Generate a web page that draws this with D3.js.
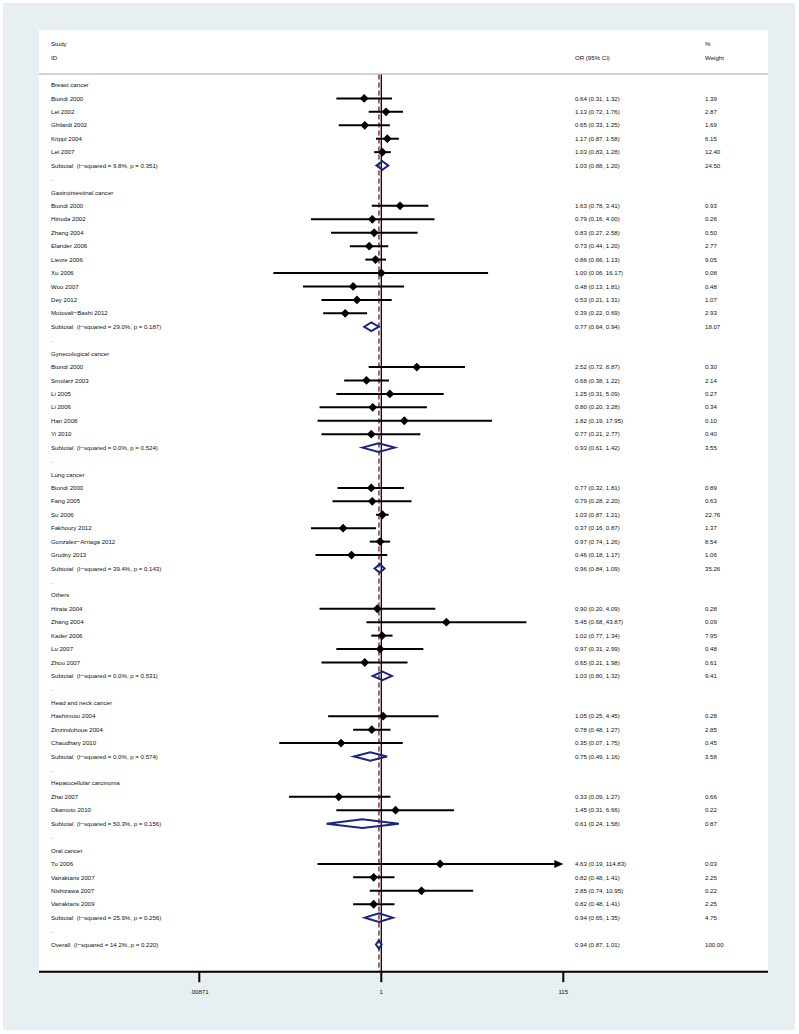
<!DOCTYPE html>
<html>
<head>
<meta charset="utf-8">
<script src="https://cdn.jsdelivr.net/npm/d3@7"></script>
<style>
  html, body { margin: 0; padding: 0; background: #ffffff; }
  svg { display: block; }
  text { font-family: "Liberation Sans", Arial, sans-serif; fill: #111111; white-space: pre; }
</style>
</head>
<body>
<div id="chart"></div>
<script>
// ---------------- DATA ----------------
const groupNames = [
  "Breast cancer", "Gastrointestinal cancer", "Gynecological cancer", "Lung cancer",
  "Others", "Head and neck cancer", "Hepatocellular carcinoma", "Oral cancer"
];

const studyLabels = [
  "Biondi 2000", "Lei 2002", "Ghilardi 2002", "Krippl 2004", "Lei 2007",
  "Biondi 2000", "Hinoda 2002", "Zhang 2004", "Elander 2006", "Lievre 2006", "Xu 2006", "Woo 2007", "Dey 2012", "Motovali\u2212Bashi 2012",
  "Biondi 2000", "Smolarz 2003", "Li 2005", "Li 2006", "Han 2008", "Yi 2010",
  "Biondi 2000", "Fang 2005", "Su 2006", "Fakhoury 2012", "Gonzalez\u2212Arriaga 2012", "Grudny 2013",
  "Hirata 2004", "Zhang 2004", "Kader 2006", "Lu 2007", "Zhou 2007",
  "Hashimoto 2004", "Zinzindohoue 2004", "Chaudhary 2010",
  "Zhai 2007", "Okamoto 2010",
  "Tu 2006", "Vairaktaris 2007", "Nishizawa 2007", "Vairaktaris 2009"
];
const studyGroup = [
  0,0,0,0,0,
  1,1,1,1,1,1,1,1,1,
  2,2,2,2,2,2,
  3,3,3,3,3,3,
  4,4,4,4,4,
  5,5,5,
  6,6,
  7,7,7,7
];
const studyOR = [
  0.64, 1.13, 0.65, 1.17, 1.03,
  1.63, 0.79, 0.83, 0.73, 0.86, 1.00, 0.48, 0.53, 0.39,
  2.52, 0.68, 1.25, 0.80, 1.82, 0.77,
  0.77, 0.79, 1.03, 0.37, 0.97, 0.46,
  0.90, 5.45, 1.02, 0.97, 0.65,
  1.05, 0.78, 0.35,
  0.33, 1.45,
  4.63, 0.82, 2.85, 0.82
];
const studyLow = [
  0.31, 0.72, 0.33, 0.87, 0.83,
  0.78, 0.16, 0.27, 0.44, 0.66, 0.06, 0.13, 0.21, 0.22,
  0.72, 0.38, 0.31, 0.20, 0.19, 0.21,
  0.32, 0.28, 0.87, 0.16, 0.74, 0.18,
  0.20, 0.68, 0.77, 0.31, 0.21,
  0.25, 0.48, 0.07,
  0.09, 0.31,
  0.19, 0.48, 0.74, 0.48
];
const studyHigh = [
  1.32, 1.76, 1.25, 1.58, 1.28,
  3.41, 4.00, 2.58, 1.20, 1.13, 16.17, 1.81, 1.31, 0.69,
  8.87, 1.22, 5.09, 3.28, 17.95, 2.77,
  1.81, 2.20, 1.21, 0.87, 1.26, 1.17,
  4.09, 43.87, 1.34, 2.99, 1.98,
  4.45, 1.27, 1.75,
  1.27, 6.66,
  114.83, 1.41, 10.95, 1.41
];
const studyWeight = [
  "1.39", "2.87", "1.69", "6.15", "12.40",
  "0.93", "0.26", "0.50", "2.77", "9.05", "0.08", "0.48", "1.07", "2.93",
  "0.30", "2.14", "0.27", "0.34", "0.10", "0.40",
  "0.89", "0.63", "22.76", "1.37", "8.54", "1.06",
  "0.28", "0.09", "7.95", "0.48", "0.61",
  "0.28", "2.85", "0.45",
  "0.66", "0.22",
  "0.03", "2.25", "0.22", "2.25"
];

const subtotalISq = ["9.8%", "29.0%", "0.0%", "39.4%", "0.0%", "0.0%", "50.3%", "25.9%"];
const subtotalP   = ["0.351", "0.187", "0.524", "0.143", "0.531", "0.574", "0.156", "0.256"];
const subtotalOR  = [1.03, 0.77, 0.93, 0.96, 1.03, 0.75, 0.61, 0.94];
const subtotalLow = [0.88, 0.64, 0.61, 0.84, 0.80, 0.49, 0.24, 0.65];
const subtotalHigh= [1.20, 0.94, 1.42, 1.09, 1.32, 1.16, 1.58, 1.35];
const subtotalWeight = ["24.50", "18.07", "3.55", "35.26", "9.41", "3.58", "0.87", "4.75"];

const overallISq = "14.2%";
const overallP = "0.220";
const overallOR = 0.94;
const overallLow = 0.87;
const overallHigh = 1.01;
const overallWeight = "100.00";

const xTickValues = [0.00871, 1, 1 / 0.00871];
const xTickLabels = [".00871", "1", "115"];

// ---------------- LAYOUT ----------------
const W = 799, H = 1034;
const plotL = 39, plotR = 768, plotT = 30, axisY = 971.7;
const labelX = 51, orX = 575, wtX = 705;
const row0 = 85, rowStep = 13.43;
const fs = 6.1;

const fmt2 = d3.format(".2f");
const ciText = (o, l, h) => `${fmt2(o)} (${fmt2(l)}, ${fmt2(h)})`;

// Build rows
const rows = [];
groupNames.forEach((g, gi) => {
  rows.push({ type: "header", label: g });
  studyLabels.forEach((s, si) => {
    if (studyGroup[si] === gi) {
      rows.push({ type: "study", label: s, or: studyOR[si], lo: studyLow[si], hi: studyHigh[si], w: studyWeight[si] });
    }
  });
  rows.push({ type: "sub", label: `Subtotal  (I\u2212squared = ${subtotalISq[gi]}, p = ${subtotalP[gi]})`,
    or: subtotalOR[gi], lo: subtotalLow[gi], hi: subtotalHigh[gi], w: subtotalWeight[gi] });
  rows.push({ type: "dot", label: "." });
});
rows.push({ type: "sub", label: `Overall  (I\u2212squared = ${overallISq}, p = ${overallP})`,
  or: overallOR, lo: overallLow, hi: overallHigh, w: overallWeight });

const y = (i) => row0 + i * rowStep;

const xMin = xTickValues[0], xMax = xTickValues[xTickValues.length - 1];
const x = d3.scaleLog().domain([xMin, xMax]).range([199.3, 563.3]);

const svg = d3.select("#chart").append("svg")
  .attr("width", W).attr("height", H);

// backgrounds
svg.append("rect").attr("x", 0).attr("y", 0).attr("width", W).attr("height", H).attr("fill", "#ffffff");
svg.append("rect").attr("x", 3).attr("y", 3).attr("width", 792).attr("height", 1027).attr("fill", "#e8eff2");
svg.append("rect").attr("x", plotL).attr("y", plotT).attr("width", plotR - plotL).attr("height", axisY - plotT).attr("fill", "#ffffff");

// header
const hdr = svg.append("g");
hdr.append("text").attr("x", labelX).attr("y", 44).attr("dy", "0.35em").attr("font-size", fs).text("Study");
hdr.append("text").attr("x", labelX).attr("y", 58).attr("dy", "0.35em").attr("font-size", fs).text("ID");
hdr.append("text").attr("x", orX).attr("y", 58).attr("dy", "0.35em").attr("font-size", fs).text("OR (95% CI)");
hdr.append("text").attr("x", wtX).attr("y", 44).attr("dy", "0.35em").attr("font-size", fs).text("%");
hdr.append("text").attr("x", wtX).attr("y", 58).attr("dy", "0.35em").attr("font-size", fs).text("Weight");
hdr.append("line").attr("x1", plotL).attr("x2", plotR).attr("y1", 74).attr("y2", 74)
  .attr("stroke", "#a8a8a8").attr("stroke-width", 1);

// null line and overall line
svg.append("line").attr("x1", x(1)).attr("x2", x(1)).attr("y1", 74.5).attr("y2", axisY)
  .attr("stroke", "#000").attr("stroke-width", 1.3);
svg.append("line").attr("x1", x(overallOR)).attr("x2", x(overallOR)).attr("y1", 74.5).attr("y2", axisY)
  .attr("stroke", "#a45560").attr("stroke-width", 1.8).attr("stroke-dasharray", "5,3");

// rows
const g = svg.append("g");
rows.forEach((r, i) => {
  const yy = y(i);
  g.append("text").attr("x", labelX).attr("y", yy).attr("dy", "0.35em").attr("font-size", fs).text(r.label);
  if (r.type === "study" || r.type === "sub") {
    g.append("text").attr("x", orX).attr("y", yy).attr("dy", "0.35em").attr("font-size", fs).text(ciText(r.or, r.lo, r.hi));
    g.append("text").attr("x", wtX).attr("y", yy).attr("dy", "0.35em").attr("font-size", fs).text(r.w);
  }
  if (r.type === "study") {
    const clipHi = r.hi > xMax;
    const xl = x(Math.max(r.lo, xMin));
    const xh = x(Math.min(r.hi, xMax));
    g.append("line").attr("x1", xl).attr("x2", clipHi ? xh - 6 : xh).attr("y1", yy).attr("y2", yy)
      .attr("stroke", "#000").attr("stroke-width", 2);
    if (clipHi) {
      g.append("path").attr("d", `M${xh},${yy} L${xh - 9},${yy - 4} L${xh - 9},${yy + 4} Z`).attr("fill", "#000");
    }
    const cx = x(r.or), s = 4.4;
    g.append("path").attr("d", `M${cx},${yy - s} L${cx + s},${yy} L${cx},${yy + s} L${cx - s},${yy} Z`).attr("fill", "#000");
  }
  if (r.type === "sub") {
    const xl = x(r.lo), xh = x(r.hi), cx = x(r.or), h = 4.3;
    g.append("path").attr("d", `M${xl},${yy} L${cx},${yy - h} L${xh},${yy} L${cx},${yy + h} Z`)
      .attr("fill", "none").attr("stroke", "#1c2580").attr("stroke-width", 2).attr("stroke-linejoin", "miter");
  }
});

// x axis
const ax = svg.append("g");
ax.append("line").attr("x1", plotL).attr("x2", plotR).attr("y1", axisY).attr("y2", axisY)
  .attr("stroke", "#000").attr("stroke-width", 2);
xTickValues.forEach((v, i) => {
  ax.append("line").attr("x1", x(v)).attr("x2", x(v)).attr("y1", axisY).attr("y2", axisY + 10.5)
    .attr("stroke", "#000").attr("stroke-width", 2);
  ax.append("text").attr("x", x(v)).attr("y", 992).attr("dy", "0.35em").attr("text-anchor", "middle")
    .attr("font-size", fs).text(xTickLabels[i]);
});
</script>
</body>
</html>
